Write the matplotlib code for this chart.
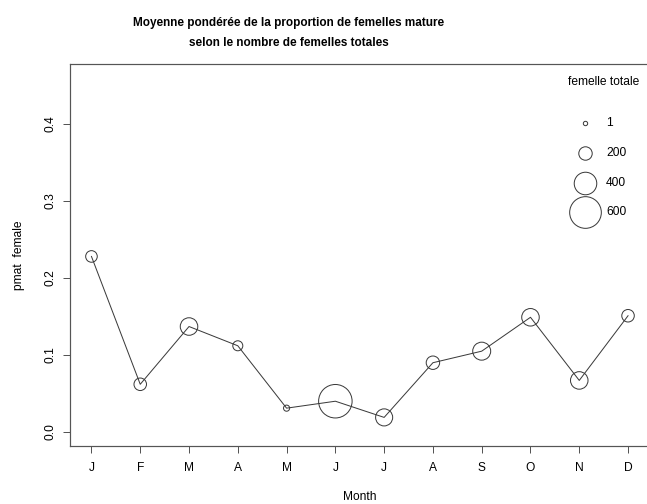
import matplotlib
matplotlib.use("Agg")
import matplotlib.pyplot as plt
from matplotlib.lines import Line2D
import numpy as np

plt.rcParams['font.family'] = ['Liberation Sans', 'DejaVu Sans']

# Monthly weighted mean proportion of mature females, and total females per month
months = ["J", "F", "M", "A", "M", "J", "J", "A", "S", "O", "N", "D"]
pmat_female = [0.228, 0.062, 0.137, 0.112, 0.031, 0.040, 0.019, 0.090, 0.105, 0.149, 0.067, 0.151]
total_females = [160, 180, 290, 125, 40, 640, 280, 200, 300, 290, 290, 180]

legend_values = [1, 200, 400, 600]
legend_title = "femelle totale"

W, H, DPI = 647, 504, 72
fig = plt.figure(figsize=(W / DPI, H / DPI), dpi=DPI)


def fx(px):
    return px / W


def fy(py):
    return 1 - py / H


def radius(n):
    # circle radius (points) grows linearly with the female count
    return 2.15 + 0.0228 * np.asarray(n, dtype=float)


def area(n):
    return (2 * radius(n)) ** 2


ax = fig.add_axes([fx(70), fy(446.2), fx(649.5) - fx(70), fy(63.6) - fy(446.2)])
x = np.arange(1, len(months) + 1)

line_col = "#3a3a3a"
ax.plot(x, pmat_female, color=line_col, lw=1.0, zorder=2)
ax.scatter(x, pmat_female, s=area(total_females), facecolors="none",
           edgecolors=line_col, linewidths=1.0, zorder=3)

ax.set_xlim(1 - 0.44, 12 + 0.44)
ax.set_ylim(-0.0184, 0.4784)
ax.set_xticks(x)
ax.set_xticklabels(months, fontsize=12)
ax.set_yticks([0.0, 0.1, 0.2, 0.3, 0.4])
ax.set_yticklabels(["0.0", "0.1", "0.2", "0.3", "0.4"], fontsize=12,
                   rotation=90, va="center")
ax.tick_params(axis="both", length=7, width=1, color="#555555")
ax.tick_params(axis="x", pad=9)
ax.tick_params(axis="y", pad=7)
for sp in ax.spines.values():
    sp.set_color("#555555")
    sp.set_linewidth(1.2)

# size legend
lx_circle, lx_text = 585, 606
ly = [123, 153, 183, 212]
for v, yy in zip(legend_values, ly):
    fig.add_artist(Line2D(
        [fx(lx_circle)], [fy(yy)], marker="o", markersize=2 * float(radius(v)),
        markerfacecolor="none", markeredgecolor=line_col, markeredgewidth=1.0,
        linestyle="none", transform=fig.transFigure))
    fig.text(fx(lx_text), fy(yy), str(v), fontsize=12, ha="left", va="center")
fig.text(fx(604), fy(82), legend_title, fontsize=12, ha="center", va="center")

fig.text(fx(289), fy(23), "Moyenne pondérée de la proportion de femelles mature",
         fontsize=11.8, fontweight="bold", ha="center", va="center")
fig.text(fx(289), fy(43), "selon le nombre de femelles totales",
         fontsize=11.8, fontweight="bold", ha="center", va="center")

fig.text(fx(360), fy(497), "Month", fontsize=12, ha="center", va="center")
fig.text(fx(19), fy(255), "pmat  female", fontsize=12, ha="center", va="center",
         rotation=90)

fig.savefig("out.png", dpi=DPI)
